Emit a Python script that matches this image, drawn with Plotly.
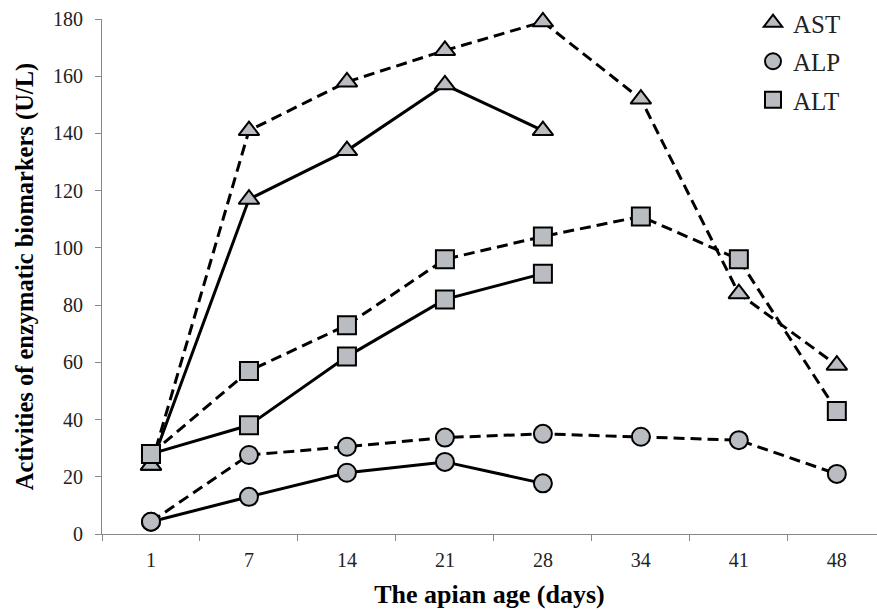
import plotly.graph_objects as go

days = ["1", "7", "14", "21", "28", "34", "41", "48"]

ast_dashed = [24, 141, 158, 169, 179, 152, 84, 59]
ast_solid = [24, 117, 134, 157, 141]
alp_dashed = [4.3, 27.6, 30.5, 33.7, 35, 34, 32.8, 21]
alp_solid = [4.3, 13, 21.4, 25.2, 17.7]
alt_dashed = [28, 57, 73, 96, 104, 111, 96, 43]
alt_solid = [28, 38, 62, 82, 91]

fill = "#b9bcc0"
serif = "Liberation Serif"

series = [
    ("AST", ast_dashed, "dash", "triangle-up"),
    ("AST", ast_solid, "solid", "triangle-up"),
    ("ALT", alt_dashed, "dash", "square"),
    ("ALT", alt_solid, "solid", "square"),
    ("ALP", alp_dashed, "dash", "circle"),
    ("ALP", alp_solid, "solid", "circle"),
]

fig = go.Figure()
for name, vals, dash, sym in series:
    fig.add_trace(go.Scatter(
        x=days[:len(vals)], y=vals, mode="lines+markers", name=name,
        showlegend=False, cliponaxis=False,
        line=dict(color="black", width=3, dash=dash if dash == "solid" else "11px,6px"),
        marker=dict(symbol=sym, size=18, color=fill, line=dict(color="black", width=2)),
    ))

# legend-only traces
for name, sym in [("AST", "triangle-up"), ("ALP", "circle"), ("ALT", "square")]:
    fig.add_trace(go.Scatter(
        x=[None], y=[None], mode="markers", name=name, legendgroup=name,
        marker=dict(symbol=sym, size=18, color=fill, line=dict(color="black", width=2)),
    ))

fig.update_layout(
    width=877, height=610,
    margin=dict(l=102, r=0, t=18, b=76),
    plot_bgcolor="white", paper_bgcolor="white",
    font=dict(family=serif, color="#222", size=20),
    legend=dict(x=0.84, y=1.037, xanchor="left", yanchor="top",
                font=dict(size=25, family=serif), tracegroupgap=3,
                bgcolor="rgba(0,0,0,0)"),
    xaxis=dict(
        type="category", categoryorder="array", categoryarray=days,
        range=[-0.5, 7.41], tickson="boundaries", ticks="outside", ticklen=6,
        tickcolor="#888", showline=True, linecolor="#888", linewidth=1,
        showgrid=False, zeroline=False, automargin=False, ticklabelstandoff=8,
        title=dict(text="<b>The apian age (days)</b>", font=dict(size=26, color="black"), standoff=14),
    ),
    yaxis=dict(
        range=[0, 180], dtick=20, ticks="outside", ticklen=6, tickcolor="#888",
        showline=True, linecolor="#888", linewidth=1, showgrid=False, zeroline=False,
        automargin=False, ticklabelstandoff=8,
        title=dict(text="<b>Activities of enzymatic biomarkers (U/L)</b>", font=dict(size=24.5, color="black"), standoff=12),
    ),
)

fig.write_html("out.html", config={"displayModeBar": False},
               post_script="document.body.style.margin='0';")
